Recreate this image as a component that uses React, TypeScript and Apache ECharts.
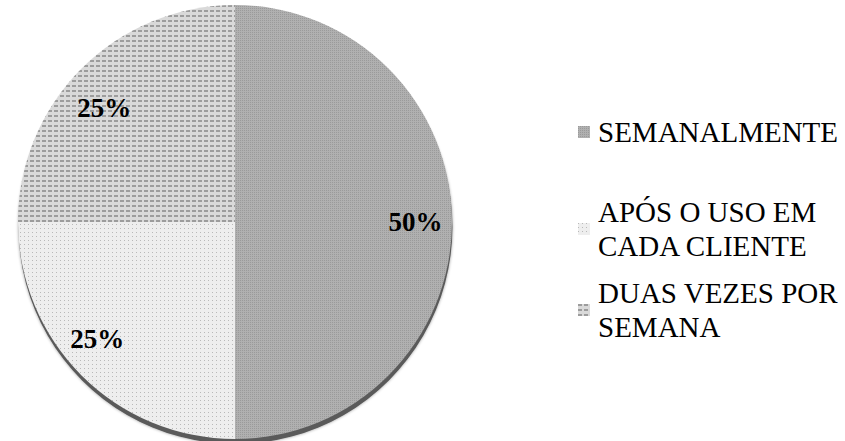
import React, { useEffect, useRef } from "react";
import * as echarts from "echarts";

const categories = ["SEMANALMENTE", "APÓS O USO EM CADA CLIENTE", "DUAS VEZES POR SEMANA"];
const legendLabels = ["SEMANALMENTE", "APÓS O USO EM\nCADA CLIENTE", "DUAS VEZES POR\nSEMANA"];
const values = [50, 25, 25];

const sliceColors = ["#b0b0b0", "#eeeeee", "#d9d9d9"];
const decals = [
  { symbol: "rect", symbolSize: 1, color: "rgba(110,110,110,0.35)", dashArrayX: [1, 1], dashArrayY: [1, 1] },
  { symbol: "rect", symbolSize: 1, color: "rgba(120,120,120,0.45)", dashArrayX: [1, 3], dashArrayY: [1, 3] },
  { symbol: "rect", symbolSize: 1, color: "rgba(95,95,95,0.5)", dashArrayX: [4, 2], dashArrayY: [2, 3] },
];
const labelShift = [
  { dx: 69, dy: 0 },
  { dx: -59, dy: 38 },
  { dx: -52, dy: -35 },
];
const legendTops = [115, 178, 259];

export default function App() {
  const ref = useRef<HTMLDivElement>(null);
  useEffect(() => {
    document.body.style.margin = "0";
    const chart = echarts.init(ref.current!, null, { renderer: "svg" });
    const serif = "Liberation Serif";
    const legends = categories.map((name, i) => ({
      data: [name],
      orient: "vertical",
      left: 578,
      top: legendTops[i],
      padding: 0,
      itemWidth: 12,
      itemHeight: 12,
      icon: "rect",
      selectedMode: false,
      formatter: () => legendLabels[i],
      textStyle: {
        fontFamily: serif,
        fontSize: 29,
        lineHeight: 34,
        color: "#000",
        padding: legendLabels[i].includes("\n") ? [34, 0, 0, 3] : [0, 0, 0, 3],
      },
    }));
    chart.setOption({
      animation: false,
      backgroundColor: "#fff",
      textStyle: { fontFamily: serif },
      legend: legends,
      series: [
        {
          type: "pie",
          name: "shadow",
          silent: true,
          center: [235.5, 227],
          radius: 217,
          label: { show: false },
          labelLine: { show: false },
          emphasis: { disabled: true },
          itemStyle: { color: "#5a5a5a", shadowBlur: 3, shadowColor: "rgba(0,0,0,0.4)" },
          data: [{ name: "_shadow", value: values.reduce((a, b) => a + b, 0) }],
          z: 1,
        },
        {
          type: "pie",
          name: "freq",
          center: [235, 222],
          radius: 217,
          startAngle: 90,
          clockwise: true,
          z: 2,
          emphasis: { disabled: true },
          itemStyle: { borderWidth: 0 },
          label: {
            show: true,
            position: "inside",
            formatter: "{d}%",
            fontFamily: serif,
            fontWeight: "bold",
            fontSize: 27,
            color: "#000",
          },
          labelLine: { show: false },
          labelLayout: (params: any) => labelShift[params.dataIndex],
          data: categories.map((name, i) => ({
            name,
            value: values[i],
            itemStyle: { color: sliceColors[i], decal: decals[i] },
          })),
        },
      ],
    });
    return () => chart.dispose();
  }, []);
  return <div ref={ref} style={{ width: 845, height: 441 }} />;
}
